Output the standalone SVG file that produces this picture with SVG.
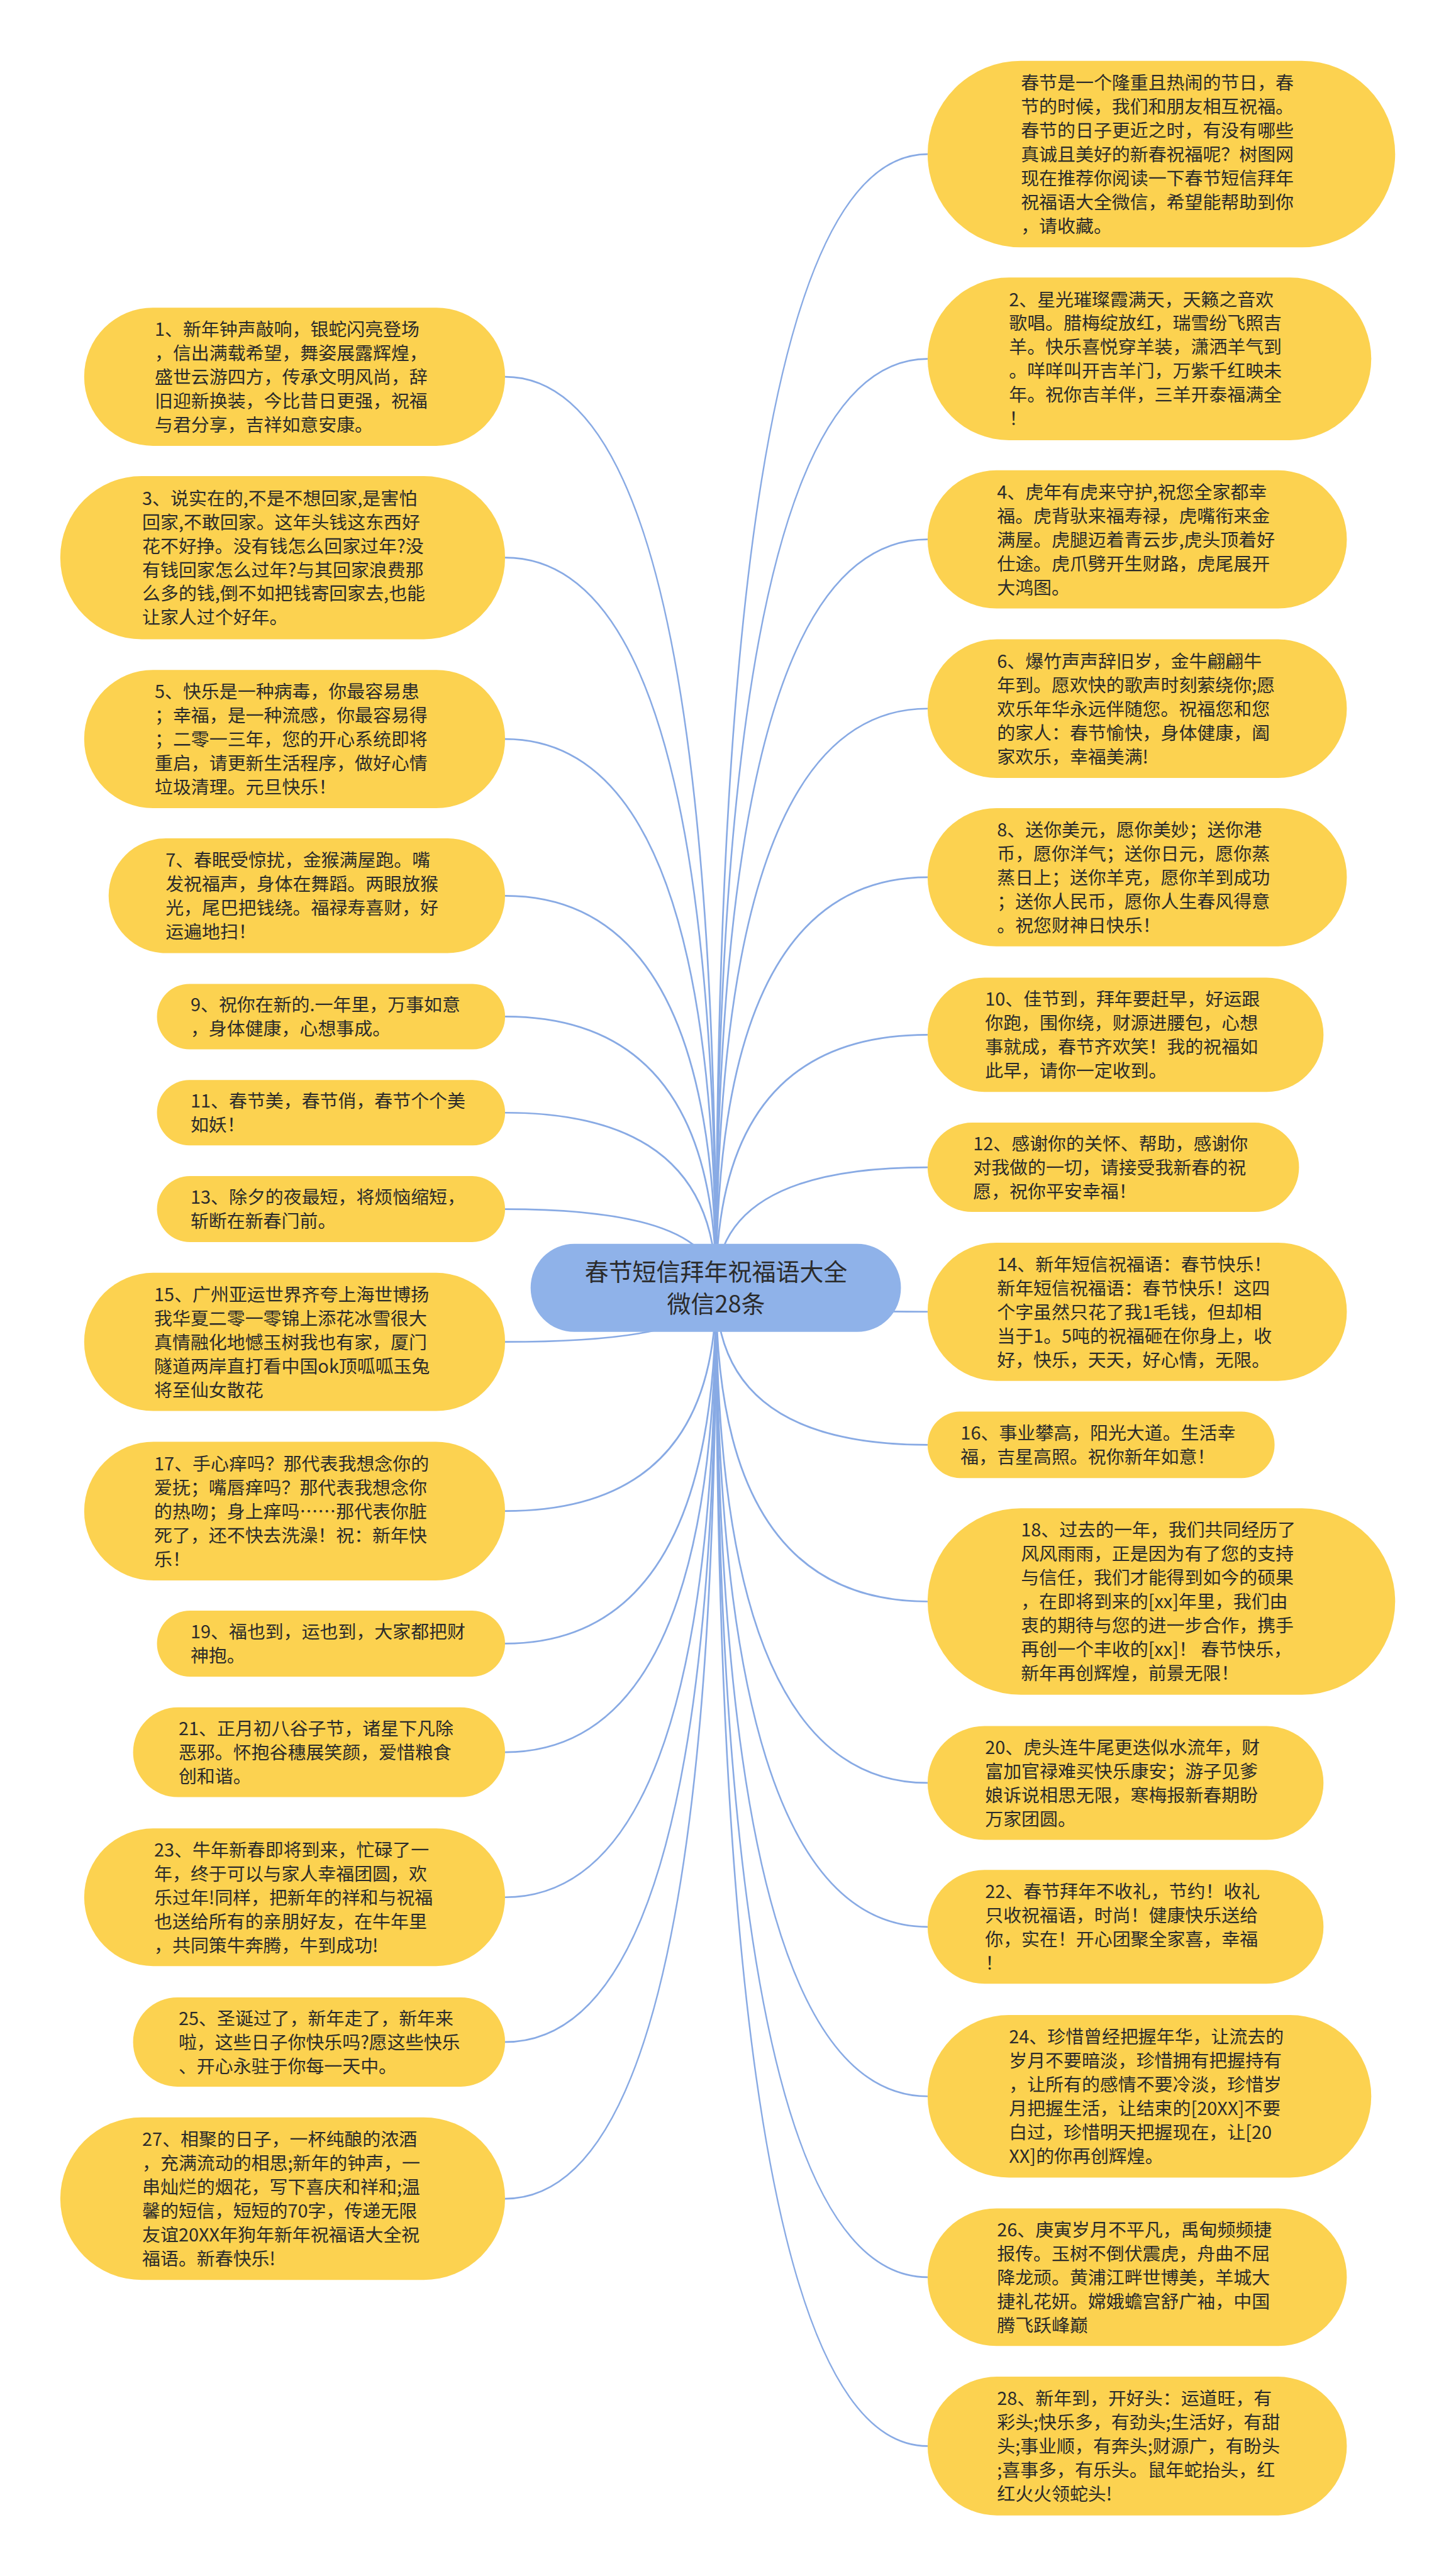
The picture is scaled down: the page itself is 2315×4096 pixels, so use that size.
<svg xmlns="http://www.w3.org/2000/svg" width="2315" height="4096" viewBox="0 0 2315 4096">
<style>
.node rect{fill:#FCD250}
.root rect{fill:#8FB2E9}
.t{font-family:"Noto Sans CJK SC","Microsoft YaHei","Liberation Sans",sans-serif;font-size:32px;fill:#2b2b2b}
.rt{font-family:"Noto Sans CJK SC","Microsoft YaHei","Liberation Sans",sans-serif;font-size:42px;fill:#2b2b2b;text-anchor:middle}
.links path{fill:none;stroke:#88AAE4;stroke-width:3}
</style>
<rect x="0" y="0" width="2315" height="4096" fill="#ffffff"/>
<g transform="scale(0.9043)">
<g id="connectors" class="links">
<path d="M1259 2265 Q1259 662.5 888 662.5"/>
<path d="M1259 2265 Q1259 980.5 888 980.5"/>
<path d="M1259 2265 Q1259 1299.5 888 1299.5"/>
<path d="M1259 2265 Q1259 1575 888 1575"/>
<path d="M1259 2265 Q1259 1787.5 888 1787.5"/>
<path d="M1259 2265 Q1259 1956.5 888 1956.5"/>
<path d="M1259 2265 Q1259 2126 888 2126"/>
<path d="M1259 2265 Q1259 2359.5 888 2359.5"/>
<path d="M1259 2265 Q1259 2657 888 2657"/>
<path d="M1259 2265 Q1259 2890 888 2890"/>
<path d="M1259 2265 Q1259 3081 888 3081"/>
<path d="M1259 2265 Q1259 3336 888 3336"/>
<path d="M1259 2265 Q1259 3590.5 888 3590.5"/>
<path d="M1259 2265 Q1259 3866 888 3866"/>
<path d="M1259 2265 Q1259 271 1631 271"/>
<path d="M1259 2265 Q1259 631 1631 631"/>
<path d="M1259 2265 Q1259 948.5 1631 948.5"/>
<path d="M1259 2265 Q1259 1246 1631 1246"/>
<path d="M1259 2265 Q1259 1542.5 1631 1542.5"/>
<path d="M1259 2265 Q1259 1819.5 1631 1819.5"/>
<path d="M1259 2265 Q1259 2052.5 1631 2052.5"/>
<path d="M1259 2265 Q1259 2306.5 1631 2306.5"/>
<path d="M1259 2265 Q1259 2540.5 1631 2540.5"/>
<path d="M1259 2265 Q1259 2816 1631 2816"/>
<path d="M1259 2265 Q1259 3135 1631 3135"/>
<path d="M1259 2265 Q1259 3388 1631 3388"/>
<path d="M1259 2265 Q1259 3686 1631 3686"/>
<path d="M1259 2265 Q1259 4004 1631 4004"/>
<path d="M1259 2265 Q1259 4301 1631 4301"/>
</g>
<g id="root" class="root">
<rect x="933" y="2187" width="651" height="155" rx="77" ry="77"/>
<text class="rt"><tspan x="1259" y="2252">春节短信拜年祝福语大全</tspan><tspan x="1259" y="2308">微信28条</tspan></text>
</g>
<g id="n1" class="node"><rect x="148" y="541" width="740" height="243" rx="121" ry="121"/>
<text class="t"><tspan x="272" y="590.5">1、新年钟声敲响，银蛇闪亮登场</tspan><tspan x="272" y="632.5">，信出满载希望，舞姿展露辉煌，</tspan><tspan x="272" y="674.5">盛世云游四方，传承文明风尚，辞</tspan><tspan x="272" y="716.5">旧迎新换装，今比昔日更强，祝福</tspan><tspan x="272" y="758.5">与君分享，吉祥如意安康。</tspan></text></g>
<g id="n3" class="node"><rect x="106" y="837" width="782" height="287" rx="143" ry="143"/>
<text class="t"><tspan x="250" y="887.5">3、说实在的,不是不想回家,是害怕</tspan><tspan x="250" y="929.5">回家,不敢回家。这年头钱这东西好</tspan><tspan x="250" y="971.5">花不好挣。没有钱怎么回家过年?没</tspan><tspan x="250" y="1013.5">有钱回家怎么过年?与其回家浪费那</tspan><tspan x="250" y="1055.5">么多的钱,倒不如把钱寄回家去,也能</tspan><tspan x="250" y="1097.5">让家人过个好年。</tspan></text></g>
<g id="n5" class="node"><rect x="148" y="1178" width="740" height="243" rx="121" ry="121"/>
<text class="t"><tspan x="272" y="1227.5">5、快乐是一种病毒，你最容易患</tspan><tspan x="272" y="1269.5">；幸福，是一种流感，你最容易得</tspan><tspan x="272" y="1311.5">；二零一三年，您的开心系统即将</tspan><tspan x="272" y="1353.5">重启，请更新生活程序，做好心情</tspan><tspan x="272" y="1395.5">垃圾清理。元旦快乐！</tspan></text></g>
<g id="n7" class="node"><rect x="191" y="1474" width="697" height="202" rx="101" ry="101"/>
<text class="t"><tspan x="291" y="1524">7、春眠受惊扰，金猴满屋跑。嘴</tspan><tspan x="291" y="1566">发祝福声，身体在舞蹈。两眼放猴</tspan><tspan x="291" y="1608">光，尾巴把钱绕。福禄寿喜财，好</tspan><tspan x="291" y="1650">运遍地扫！</tspan></text></g>
<g id="n9" class="node"><rect x="276" y="1730" width="612" height="115" rx="57" ry="57"/>
<text class="t"><tspan x="335" y="1778.5">9、祝你在新的.一年里，万事如意</tspan><tspan x="335" y="1820.5">，身体健康，心想事成。</tspan></text></g>
<g id="n11" class="node"><rect x="276" y="1899" width="612" height="115" rx="57" ry="57"/>
<text class="t"><tspan x="335" y="1947.5">11、春节美，春节俏，春节个个美</tspan><tspan x="335" y="1989.5">如妖！</tspan></text></g>
<g id="n13" class="node"><rect x="276" y="2068" width="612" height="116" rx="58" ry="58"/>
<text class="t"><tspan x="335" y="2117">13、除夕的夜最短，将烦恼缩短，</tspan><tspan x="335" y="2159">斩断在新春门前。</tspan></text></g>
<g id="n15" class="node"><rect x="148" y="2238" width="740" height="243" rx="121" ry="121"/>
<text class="t"><tspan x="271" y="2287.5">15、广州亚运世界齐夸上海世博扬</tspan><tspan x="271" y="2329.5">我华夏二零一零锦上添花冰雪很大</tspan><tspan x="271" y="2371.5">真情融化地憾玉树我也有家，厦门</tspan><tspan x="271" y="2413.5">隧道两岸直打看中国ok顶呱呱玉兔</tspan><tspan x="271" y="2455.5">将至仙女散花</tspan></text></g>
<g id="n17" class="node"><rect x="148" y="2535" width="740" height="244" rx="122" ry="122"/>
<text class="t"><tspan x="271" y="2585">17、手心痒吗？那代表我想念你的</tspan><tspan x="271" y="2627">爱抚；嘴唇痒吗？那代表我想念你</tspan><tspan x="271" y="2669">的热吻；身上痒吗……那代表你脏</tspan><tspan x="271" y="2711">死了，还不快去洗澡！祝：新年快</tspan><tspan x="271" y="2753">乐！</tspan></text></g>
<g id="n19" class="node"><rect x="276" y="2832" width="612" height="116" rx="58" ry="58"/>
<text class="t"><tspan x="335" y="2881">19、福也到，运也到，大家都把财</tspan><tspan x="335" y="2923">神抱。</tspan></text></g>
<g id="n21" class="node"><rect x="234" y="3002" width="654" height="158" rx="79" ry="79"/>
<text class="t"><tspan x="314" y="3051">21、正月初八谷子节，诸星下凡除</tspan><tspan x="314" y="3093">恶邪。怀抱谷穗展笑颜，爱惜粮食</tspan><tspan x="314" y="3135">创和谐。</tspan></text></g>
<g id="n23" class="node"><rect x="148" y="3215" width="740" height="242" rx="121" ry="121"/>
<text class="t"><tspan x="271" y="3264">23、牛年新春即将到来，忙碌了一</tspan><tspan x="271" y="3306">年，终于可以与家人幸福团圆，欢</tspan><tspan x="271" y="3348">乐过年!同样，把新年的祥和与祝福</tspan><tspan x="271" y="3390">也送给所有的亲朋好友，在牛年里</tspan><tspan x="271" y="3432">，共同策牛奔腾，牛到成功!</tspan></text></g>
<g id="n25" class="node"><rect x="234" y="3512" width="654" height="157" rx="78" ry="78"/>
<text class="t"><tspan x="314" y="3560.5">25、圣诞过了，新年走了，新年来</tspan><tspan x="314" y="3602.5">啦，这些日子你快乐吗?愿这些快乐</tspan><tspan x="314" y="3644.5">、开心永驻于你每一天中。</tspan></text></g>
<g id="n27" class="node"><rect x="106" y="3723" width="782" height="286" rx="143" ry="143"/>
<text class="t"><tspan x="250" y="3773">27、相聚的日子，一杯纯酿的浓酒</tspan><tspan x="250" y="3815">，充满流动的相思;新年的钟声，一</tspan><tspan x="250" y="3857">串灿烂的烟花，写下喜庆和祥和;温</tspan><tspan x="250" y="3899">馨的短信，短短的70字，传递无限</tspan><tspan x="250" y="3941">友谊20XX年狗年新年祝福语大全祝</tspan><tspan x="250" y="3983">福语。新春快乐!</tspan></text></g>
<g id="n0" class="node"><rect x="1631" y="107" width="822" height="328" rx="164" ry="164"/>
<text class="t"><tspan x="1795" y="157">春节是一个隆重且热闹的节日，春</tspan><tspan x="1795" y="199">节的时候，我们和朋友相互祝福。</tspan><tspan x="1795" y="241">春节的日子更近之时，有没有哪些</tspan><tspan x="1795" y="283">真诚且美好的新春祝福呢？树图网</tspan><tspan x="1795" y="325">现在推荐你阅读一下春节短信拜年</tspan><tspan x="1795" y="367">祝福语大全微信，希望能帮助到你</tspan><tspan x="1795" y="409">，请收藏。</tspan></text></g>
<g id="n2" class="node"><rect x="1631" y="488" width="780" height="286" rx="143" ry="143"/>
<text class="t"><tspan x="1774" y="538">2、星光璀璨霞满天，天籁之音欢</tspan><tspan x="1774" y="580">歌唱。腊梅绽放红，瑞雪纷飞照吉</tspan><tspan x="1774" y="622">羊。快乐喜悦穿羊装，潇洒羊气到</tspan><tspan x="1774" y="664">。咩咩叫开吉羊门，万紫千红映未</tspan><tspan x="1774" y="706">年。祝你吉羊伴，三羊开泰福满全</tspan><tspan x="1774" y="748">！</tspan></text></g>
<g id="n4" class="node"><rect x="1631" y="827" width="737" height="243" rx="121" ry="121"/>
<text class="t"><tspan x="1753" y="876.5">4、虎年有虎来守护,祝您全家都幸</tspan><tspan x="1753" y="918.5">福。虎背驮来福寿禄，虎嘴衔来金</tspan><tspan x="1753" y="960.5">满屋。虎腿迈着青云步,虎头顶着好</tspan><tspan x="1753" y="1002.5">仕途。虎爪劈开生财路，虎尾展开</tspan><tspan x="1753" y="1044.5">大鸿图。</tspan></text></g>
<g id="n6" class="node"><rect x="1631" y="1124" width="737" height="244" rx="122" ry="122"/>
<text class="t"><tspan x="1753" y="1174">6、爆竹声声辞旧岁，金牛翩翩牛</tspan><tspan x="1753" y="1216">年到。愿欢快的歌声时刻萦绕你;愿</tspan><tspan x="1753" y="1258">欢乐年华永远伴随您。祝福您和您</tspan><tspan x="1753" y="1300">的家人：春节愉快，身体健康，阖</tspan><tspan x="1753" y="1342">家欢乐，幸福美满!</tspan></text></g>
<g id="n8" class="node"><rect x="1631" y="1421" width="737" height="243" rx="121" ry="121"/>
<text class="t"><tspan x="1753" y="1470.5">8、送你美元，愿你美妙；送你港</tspan><tspan x="1753" y="1512.5">币，愿你洋气；送你日元，愿你蒸</tspan><tspan x="1753" y="1554.5">蒸日上；送你羊克，愿你羊到成功</tspan><tspan x="1753" y="1596.5">；送你人民币，愿你人生春风得意</tspan><tspan x="1753" y="1638.5">。祝您财神日快乐！</tspan></text></g>
<g id="n10" class="node"><rect x="1631" y="1719" width="696" height="201" rx="100" ry="100"/>
<text class="t"><tspan x="1732" y="1768.5">10、佳节到，拜年要赶早，好运跟</tspan><tspan x="1732" y="1810.5">你跑，围你绕，财源进腰包，心想</tspan><tspan x="1732" y="1852.5">事就成，春节齐欢笑！我的祝福如</tspan><tspan x="1732" y="1894.5">此早，请你一定收到。</tspan></text></g>
<g id="n12" class="node"><rect x="1631" y="1974" width="653" height="157" rx="78" ry="78"/>
<text class="t"><tspan x="1711" y="2022.5">12、感谢你的关怀、帮助，感谢你</tspan><tspan x="1711" y="2064.5">对我做的一切，请接受我新春的祝</tspan><tspan x="1711" y="2106.5">愿，祝你平安幸福！</tspan></text></g>
<g id="n14" class="node"><rect x="1631" y="2185" width="737" height="243" rx="121" ry="121"/>
<text class="t"><tspan x="1753" y="2234.5">14、新年短信祝福语：春节快乐！</tspan><tspan x="1753" y="2276.5">新年短信祝福语：春节快乐！这四</tspan><tspan x="1753" y="2318.5">个字虽然只花了我1毛钱，但却相</tspan><tspan x="1753" y="2360.5">当于1。5吨的祝福砸在你身上，收</tspan><tspan x="1753" y="2402.5">好，快乐，天天，好心情，无限。</tspan></text></g>
<g id="n16" class="node"><rect x="1631" y="2482" width="610" height="117" rx="58" ry="58"/>
<text class="t"><tspan x="1689" y="2531.5">16、事业攀高，阳光大道。生活幸</tspan><tspan x="1689" y="2573.5">福，吉星高照。祝你新年如意！</tspan></text></g>
<g id="n18" class="node"><rect x="1631" y="2652" width="822" height="328" rx="164" ry="164"/>
<text class="t"><tspan x="1795" y="2702">18、过去的一年，我们共同经历了</tspan><tspan x="1795" y="2744">风风雨雨，正是因为有了您的支持</tspan><tspan x="1795" y="2786">与信任，我们才能得到如今的硕果</tspan><tspan x="1795" y="2828">，在即将到来的[xx]年里，我们由</tspan><tspan x="1795" y="2870">衷的期待与您的进一步合作，携手</tspan><tspan x="1795" y="2912">再创一个丰收的[xx]！ 春节快乐，</tspan><tspan x="1795" y="2954">新年再创辉煌，前景无限！</tspan></text></g>
<g id="n20" class="node"><rect x="1631" y="3035" width="696" height="200" rx="100" ry="100"/>
<text class="t"><tspan x="1732" y="3084">20、虎头连牛尾更迭似水流年，财</tspan><tspan x="1732" y="3126">富加官禄难买快乐康安；游子见爹</tspan><tspan x="1732" y="3168">娘诉说相思无限，寒梅报新春期盼</tspan><tspan x="1732" y="3210">万家团圆。</tspan></text></g>
<g id="n22" class="node"><rect x="1631" y="3288" width="696" height="200" rx="100" ry="100"/>
<text class="t"><tspan x="1732" y="3337">22、春节拜年不收礼，节约！收礼</tspan><tspan x="1732" y="3379">只收祝福语，时尚！健康快乐送给</tspan><tspan x="1732" y="3421">你，实在！开心团聚全家喜，幸福</tspan><tspan x="1732" y="3463">！</tspan></text></g>
<g id="n24" class="node"><rect x="1631" y="3543" width="780" height="286" rx="143" ry="143"/>
<text class="t"><tspan x="1774" y="3593">24、珍惜曾经把握年华，让流去的</tspan><tspan x="1774" y="3635">岁月不要暗淡，珍惜拥有把握持有</tspan><tspan x="1774" y="3677">，让所有的感情不要冷淡，珍惜岁</tspan><tspan x="1774" y="3719">月把握生活，让结束的[20XX]不要</tspan><tspan x="1774" y="3761">白过，珍惜明天把握现在，让[20</tspan><tspan x="1774" y="3803">XX]的你再创辉煌。</tspan></text></g>
<g id="n26" class="node"><rect x="1631" y="3883" width="737" height="242" rx="121" ry="121"/>
<text class="t"><tspan x="1753" y="3932">26、庚寅岁月不平凡，禹甸频频捷</tspan><tspan x="1753" y="3974">报传。玉树不倒伏震虎，舟曲不屈</tspan><tspan x="1753" y="4016">降龙顽。黄浦江畔世博美，羊城大</tspan><tspan x="1753" y="4058">捷礼花妍。嫦娥蟾宫舒广袖，中国</tspan><tspan x="1753" y="4100">腾飞跃峰巅</tspan></text></g>
<g id="n28" class="node"><rect x="1631" y="4179" width="737" height="244" rx="122" ry="122"/>
<text class="t"><tspan x="1753" y="4229">28、新年到，开好头：运道旺，有</tspan><tspan x="1753" y="4271">彩头;快乐多，有劲头;生活好，有甜</tspan><tspan x="1753" y="4313">头;事业顺，有奔头;财源广，有盼头</tspan><tspan x="1753" y="4355">;喜事多，有乐头。鼠年蛇抬头，红</tspan><tspan x="1753" y="4397">红火火领蛇头!</tspan></text></g>
</g>
</svg>
